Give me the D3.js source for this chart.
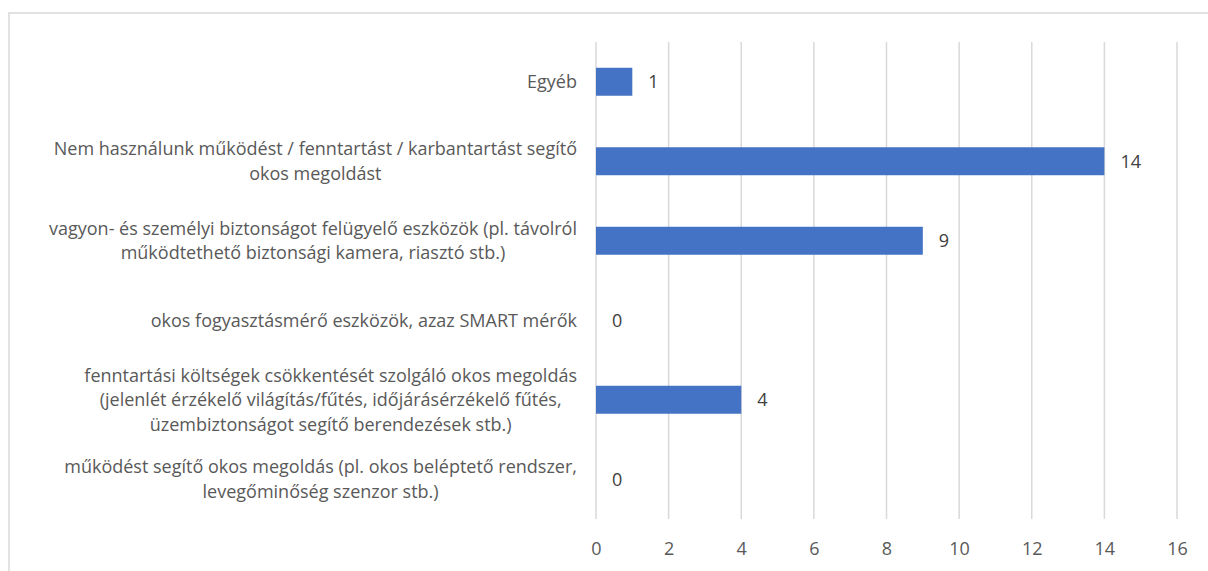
<!DOCTYPE html>
<html>
<head>
<meta charset="utf-8">
<script src="https://cdn.jsdelivr.net/npm/d3@7"></script>
<style>
  html, body { margin: 0; padding: 0; background: #fff; }
  svg { display: block; }
</style>
</head>
<body>
<svg id="chart" width="1208" height="571"></svg>
<script>
// Categories, top to bottom; each entry is the label split into its lines.
const categories = [
  ["Egyéb"],
  ["Nem használunk működést / fenntartást / karbantartást segítő", "okos megoldást"],
  ["vagyon- és személyi biztonságot felügyelő eszközök (pl. távolról", "működtethető biztonsági kamera, riasztó stb.)"],
  ["okos fogyasztásmérő eszközök, azaz SMART mérők"],
  ["fenntartási költségek csökkentését szolgáló okos megoldás", "(jelenlét érzékelő világítás/fűtés, időjárásérzékelő fűtés,", "üzembiztonságot segítő berendezések stb.)"],
  ["működést segítő okos megoldás (pl. okos beléptető rendszer,", "levegőminőség szenzor stb.)"]
];
const values = [1, 14, 9, 0, 4, 0];
const xTicks = [0, 2, 4, 6, 8, 10, 12, 14, 16];

const FONT = "'Open Sans', 'Noto Sans', sans-serif";
const FONT_SIZE = 18;
const LINE_H = 24.5;
const GRID = "#d9d9d9";
const BAR = "#4472c4";
const TEXT = "#595959";

const plot = { left: 596, right: 1177, top: 42, bottom: 519 };

const svg = d3.select("#chart");

// Chart frame (runs past the right and bottom edges of the view)
svg.append("rect")
  .attr("x", 9).attr("y", 13)
  .attr("width", 1300).attr("height", 700)
  .attr("fill", "#fff")
  .attr("stroke", GRID).attr("stroke-width", 1.5);

const x = d3.scaleLinear().domain([0, 16]).range([plot.left, plot.right]);
const pad = 0.648;
const y = d3.scaleBand()
  .domain(d3.range(categories.length))
  .range([plot.top, plot.bottom])
  .paddingInner(pad).paddingOuter(pad / 2);
const yBand = d3.scaleBand()
  .domain(d3.range(categories.length))
  .range([plot.top, plot.bottom]);

// Vertical gridlines
svg.append("g").selectAll("line").data(xTicks).join("line")
  .attr("x1", d => x(d)).attr("x2", d => x(d))
  .attr("y1", plot.top).attr("y2", plot.bottom)
  .attr("stroke", GRID).attr("stroke-width", 1.5);

// Bottom axis tick labels
const xAxis = d3.axisBottom(x).tickValues(xTicks).tickSize(0).tickPadding(0);
const gx = svg.append("g")
  .attr("transform", `translate(0,${plot.bottom + 23})`)
  .call(xAxis);
gx.select(".domain").remove();
gx.selectAll("text")
  .attr("font-family", FONT).attr("font-size", FONT_SIZE)
  .attr("fill", TEXT).attr("dy", "0.71em");

// Bars
svg.append("g").selectAll("rect").data(values).join("rect")
  .attr("x", x(0))
  .attr("y", (d, i) => y(i))
  .attr("width", d => x(d) - x(0))
  .attr("height", y.bandwidth())
  .attr("fill", BAR);

// Value labels
svg.append("g").selectAll("text").data(values).join("text")
  .attr("x", d => x(d) + 16)
  .attr("y", (d, i) => y(i) + y.bandwidth() / 2)
  .attr("dy", "0.35em")
  .attr("font-family", FONT).attr("font-size", FONT_SIZE)
  .attr("fill", "#404040")
  .text(d => d);

// Category labels: block right-aligned to the axis, lines centred within the block
const labelRight = plot.left - 19;
const lg = svg.append("g");
categories.forEach((lines, i) => {
  const cy = yBand(i) + yBand.bandwidth() / 2;
  const t = lg.append("text")
    .attr("font-family", FONT).attr("font-size", FONT_SIZE)
    .attr("fill", TEXT).attr("text-anchor", "middle");
  const spans = lines.map((s, k) => t.append("tspan")
    .attr("y", cy + (k - (lines.length - 1) / 2) * LINE_H)
    .attr("dy", "0.35em")
    .text(s));
  const w = d3.max(spans, s => s.node().getComputedTextLength());
  spans.forEach(s => s.attr("x", labelRight - w / 2));
});
</script>
</body>
</html>
